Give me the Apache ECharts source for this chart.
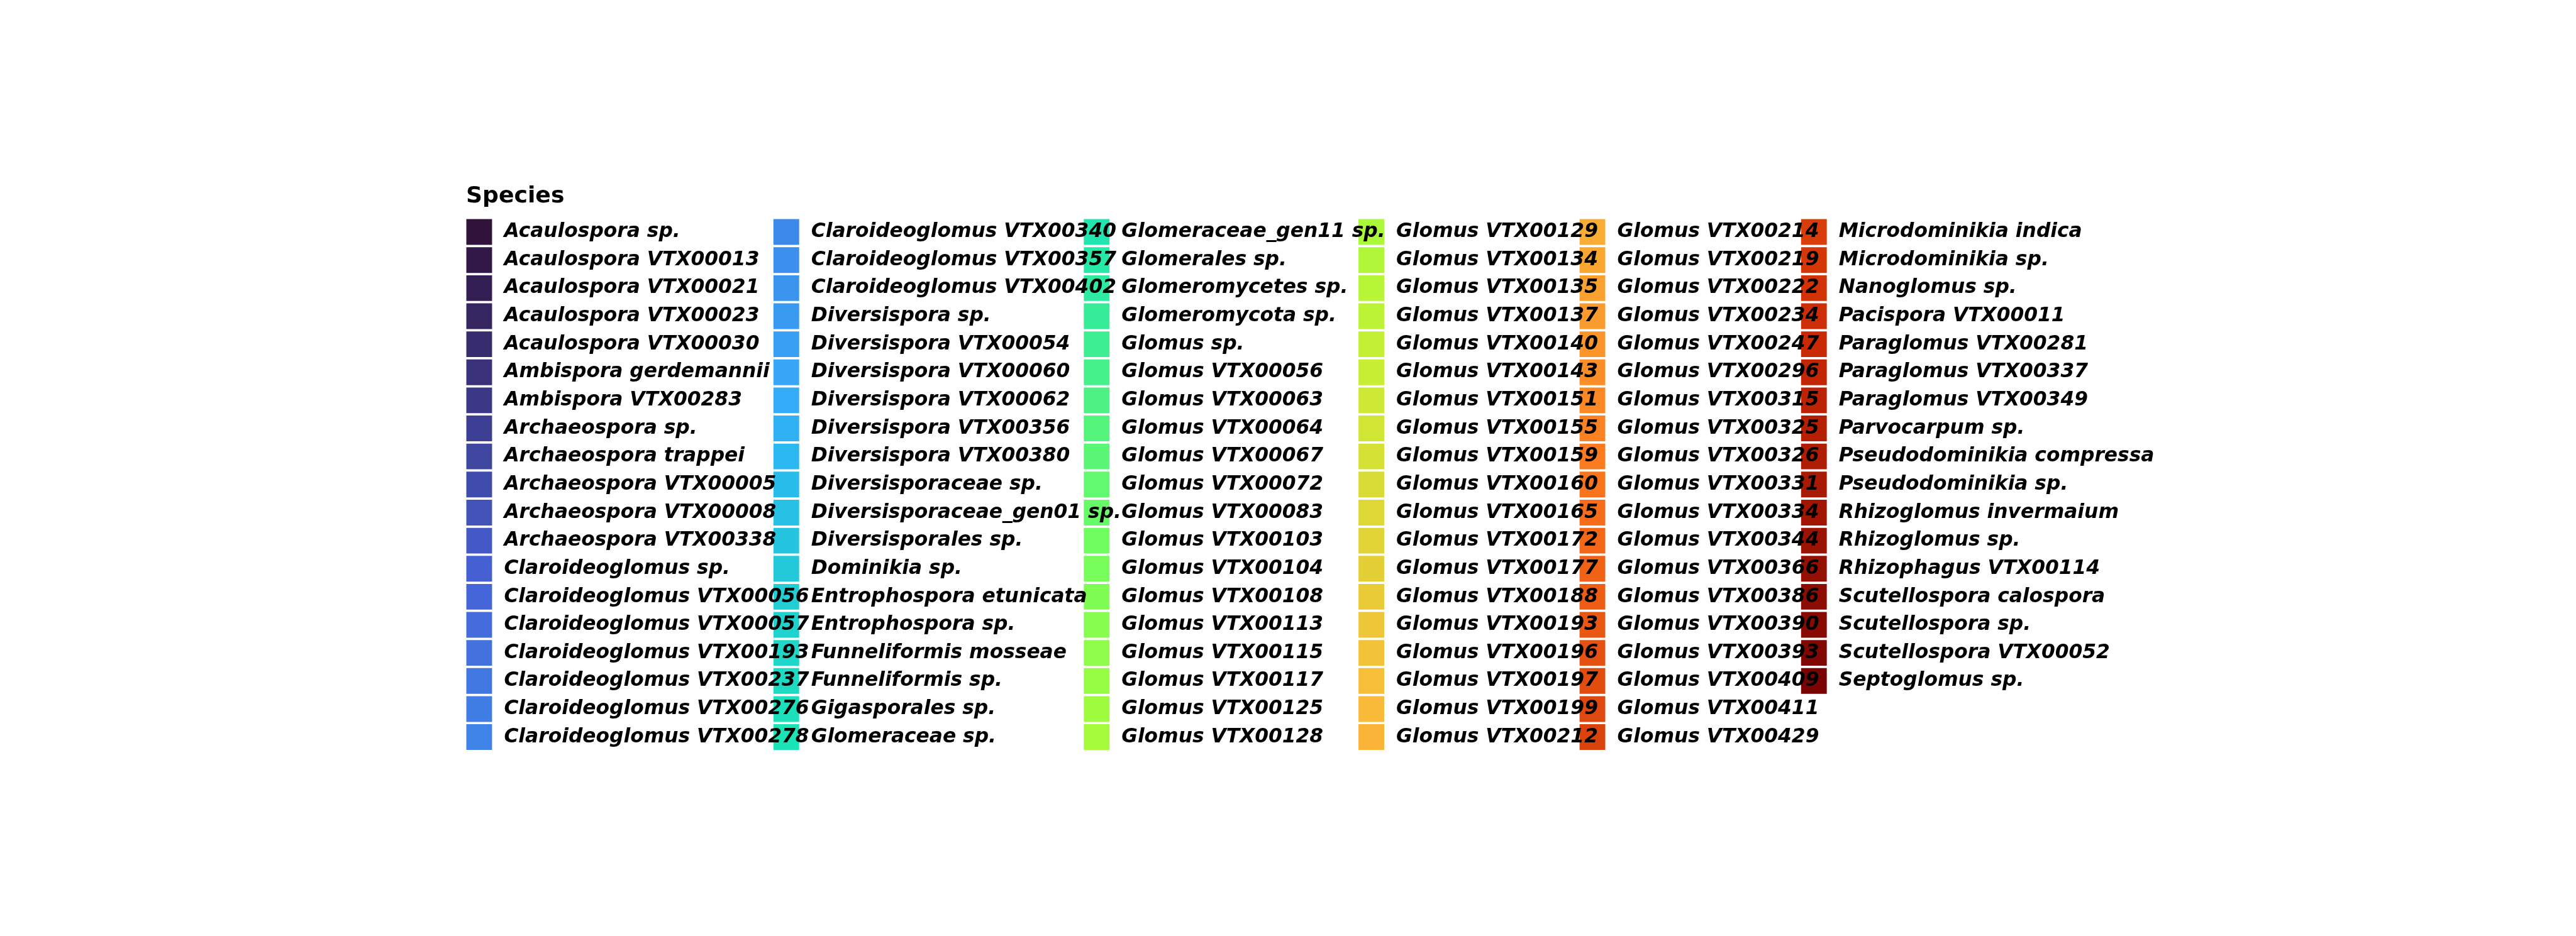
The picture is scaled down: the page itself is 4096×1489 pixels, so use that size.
<!DOCTYPE html>
<html>
<head>
<meta charset="utf-8">
<script src="https://cdn.jsdelivr.net/npm/echarts@6/dist/echarts.min.js"></script>
<style>
html,body{margin:0;padding:0;background:#ffffff;}
#chart{width:4096px;height:1489px;}
</style>
</head>
<body>
<div id="chart"></div>
<script>
// ---- data: legend entries, one array per legend column ----
const legendTitle = 'Species';
const speciesCol1 = [
  'Acaulospora sp.','Acaulospora VTX00013','Acaulospora VTX00021','Acaulospora VTX00023',
  'Acaulospora VTX00030','Ambispora gerdemannii','Ambispora VTX00283','Archaeospora sp.',
  'Archaeospora trappei','Archaeospora VTX00005','Archaeospora VTX00008','Archaeospora VTX00338',
  'Claroideoglomus sp.','Claroideoglomus VTX00056','Claroideoglomus VTX00057','Claroideoglomus VTX00193',
  'Claroideoglomus VTX00237','Claroideoglomus VTX00276','Claroideoglomus VTX00278'
];
const speciesCol2 = [
  'Claroideoglomus VTX00340','Claroideoglomus VTX00357','Claroideoglomus VTX00402','Diversispora sp.',
  'Diversispora VTX00054','Diversispora VTX00060','Diversispora VTX00062','Diversispora VTX00356',
  'Diversispora VTX00380','Diversisporaceae sp.','Diversisporaceae_gen01 sp.','Diversisporales sp.',
  'Dominikia sp.','Entrophospora etunicata','Entrophospora sp.','Funneliformis mosseae',
  'Funneliformis sp.','Gigasporales sp.','Glomeraceae sp.'
];
const speciesCol3 = [
  'Glomeraceae_gen11 sp.','Glomerales sp.','Glomeromycetes sp.','Glomeromycota sp.',
  'Glomus sp.','Glomus VTX00056','Glomus VTX00063','Glomus VTX00064',
  'Glomus VTX00067','Glomus VTX00072','Glomus VTX00083','Glomus VTX00103',
  'Glomus VTX00104','Glomus VTX00108','Glomus VTX00113','Glomus VTX00115',
  'Glomus VTX00117','Glomus VTX00125','Glomus VTX00128'
];
const speciesCol4 = [
  'Glomus VTX00129','Glomus VTX00134','Glomus VTX00135','Glomus VTX00137',
  'Glomus VTX00140','Glomus VTX00143','Glomus VTX00151','Glomus VTX00155',
  'Glomus VTX00159','Glomus VTX00160','Glomus VTX00165','Glomus VTX00172',
  'Glomus VTX00177','Glomus VTX00188','Glomus VTX00193','Glomus VTX00196',
  'Glomus VTX00197','Glomus VTX00199','Glomus VTX00212'
];
const speciesCol5 = [
  'Glomus VTX00214','Glomus VTX00219','Glomus VTX00222','Glomus VTX00234',
  'Glomus VTX00247','Glomus VTX00296','Glomus VTX00315','Glomus VTX00325',
  'Glomus VTX00326','Glomus VTX00331','Glomus VTX00334','Glomus VTX00344',
  'Glomus VTX00366','Glomus VTX00386','Glomus VTX00390','Glomus VTX00393',
  'Glomus VTX00409','Glomus VTX00411','Glomus VTX00429'
];
const speciesCol6 = [
  'Microdominikia indica','Microdominikia sp.','Nanoglomus sp.','Pacispora VTX00011',
  'Paraglomus VTX00281','Paraglomus VTX00337','Paraglomus VTX00349','Parvocarpum sp.',
  'Pseudodominikia compressa','Pseudodominikia sp.','Rhizoglomus invermaium','Rhizoglomus sp.',
  'Rhizophagus VTX00114','Scutellospora calospora','Scutellospora sp.','Scutellospora VTX00052',
  'Septoglomus sp.'
];

// ---- style: turbo palette anchors ----
const turboStops = [
  [0, '#30123B'], [1/9, '#4662D7'], [2/9, '#36AAF9'], [0.25, '#28BBEC'],
  [3/9, '#1AE4B6'], [4/9, '#72FE5E'], [0.5, '#A2FC3C'], [5/9, '#C7EF34'],
  [6/9, '#FABA39'], [0.75, '#FB8022'], [7/9, '#F66B19'], [8/9, '#CB2A04'], [1, '#7A0403']
];
function hexToRgb(h){return [parseInt(h.substr(1,2),16),parseInt(h.substr(3,2),16),parseInt(h.substr(5,2),16)];}
function turbo(t){
  for(let k=0;k<turboStops.length-1;k++){
    const a=turboStops[k], b=turboStops[k+1];
    if(t<=b[0]+1e-9){
      const f=(t-a[0])/(b[0]-a[0]);
      const ca=hexToRgb(a[1]), cb=hexToRgb(b[1]);
      const c=ca.map((v,j)=>Math.round(v+(cb[j]-v)*f));
      return 'rgb('+c.join(',')+')';
    }
  }
  return turboStops[turboStops.length-1][1];
}

const columns = [speciesCol1, speciesCol2, speciesCol3, speciesCol4, speciesCol5, speciesCol6];
const allSpecies = [].concat(...columns);
const n = allSpecies.length;

// layout (pixels)
const colLeft = [741.5, 1229.8, 1723.3, 2160.1, 2511.6, 2863.8];
const legendTop = 348.6;
const key = 40.9;
const keyGap = 3.74;
const textStyle = {
  fontFamily: 'DejaVu Sans', fontSize: 31.3, fontWeight: 'bold', fontStyle: 'italic',
  color: '#000000', padding: [0, 0, 0, 14]
};

const series = allSpecies.map((name, i) => ({
  type: 'bar', name: name, data: [],
  itemStyle: { color: turbo(n > 1 ? i / (n - 1) : 0) }
}));

const legends = columns.map((col, i) => ({
  orient: 'vertical', left: colLeft[i], top: legendTop, padding: 0,
  itemWidth: key, itemHeight: key, itemGap: keyGap, icon: 'rect',
  selectedMode: false, z: 20 - i, data: col, textStyle: textStyle
}));

const chart = echarts.init(document.getElementById('chart'), null, {renderer: 'canvas'});
chart.setOption({
  backgroundColor: '#ffffff',
  animation: false,
  title: {
    text: legendTitle, left: 741, top: 294.5, padding: 0,
    textStyle: { fontFamily: 'DejaVu Sans', fontSize: 36.2, fontWeight: 'bold', color: '#000000' }
  },
  grid: { left: 0, top: 0, width: 10, height: 10, show: false },
  xAxis: { type: 'category', show: false, data: [] },
  yAxis: { type: 'value', show: false },
  legend: legends,
  series: series
});
</script>
</body>
</html>
